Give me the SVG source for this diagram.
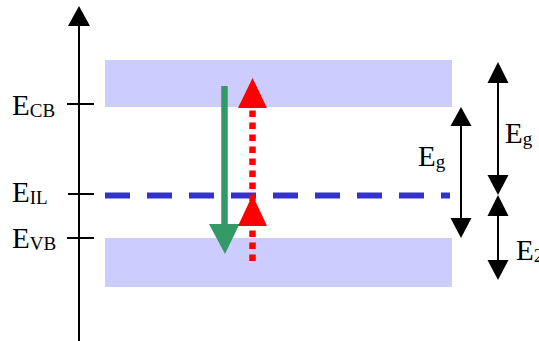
<svg xmlns="http://www.w3.org/2000/svg" width="539" height="341" viewBox="0 0 539 341">
<style>
.lbl{font-family:"Liberation Serif","Times New Roman",serif;font-size:29px;fill:#000}
.sub{font-size:19px}
.band{fill:#CCCCFF}
.ax{stroke:#000;stroke-width:2;fill:none}
.blk{fill:#000}
</style>
<g id="bands">
<rect id="cb-band" class="band" x="105" y="60" width="347" height="47"/>
<rect id="vb-band" class="band" x="105" y="238" width="347" height="49"/>
</g>
<g id="axis">
<line class="ax" x1="79" y1="341" x2="79" y2="24"/>
<polygon class="blk" points="79,6 90,26 68,26"/>
<line class="ax" x1="67" y1="104" x2="94" y2="104"/>
<line class="ax" x1="68" y1="194" x2="94" y2="194"/>
<line class="ax" x1="67" y1="238" x2="94" y2="238"/>
</g>
<g id="labels">
<text id="l-ecb" class="lbl" x="12" y="115">E<tspan class="sub" dy="2">CB</tspan></text>
<text id="l-eil" class="lbl" x="12" y="202">E<tspan class="sub" dy="2">IL</tspan></text>
<text id="l-evb" class="lbl" x="12" y="248">E<tspan class="sub" dy="2">VB</tspan></text>
<text id="l-eg1" class="lbl" x="418" y="166">E<tspan class="sub" dy="2">g</tspan></text>
<text id="l-eg2" class="lbl" x="505" y="143">E<tspan class="sub" dy="2">g</tspan></text>
<text id="l-e2" class="lbl" x="516" y="260">E<tspan class="sub" dy="2">2</tspan></text>
</g>
<g id="il-level">
<line x1="105" y1="195.5" x2="450" y2="195.5" stroke="#3333CC" stroke-width="6" stroke-dasharray="25 17"/>
</g>
<g id="connectors">
<g id="green-arrow">
<line x1="224.5" y1="86" x2="224.5" y2="226" stroke="#339966" stroke-width="6.5"/>
<polygon fill="#339966" points="209,224 239.5,224 225,254"/>
</g>
<g id="red-arrow">
<line x1="252.5" y1="261" x2="252.5" y2="106" stroke="#FF0000" stroke-width="6.5" stroke-dasharray="6.5 5.5"/>
<polygon fill="#FF0000" points="252.5,78 267,108 238,108"/>
<polygon fill="#FF0000" points="252.5,195 267,226 238,226"/>
</g>
<g id="eg1-arrow">
<line class="ax" x1="461" y1="124" x2="461" y2="220"/>
<polygon class="blk" points="461,107 471.5,126 450.5,126"/>
<polygon class="blk" points="461,238 471.5,218 450.5,218"/>
</g>
<g id="eg2-arrow">
<line class="ax" x1="498" y1="81" x2="498" y2="177"/>
<polygon class="blk" points="498,62 508.5,83 487.5,83"/>
<polygon class="blk" points="498,195 508.5,175 487.5,175"/>
</g>
<g id="e2-arrow">
<line class="ax" x1="498" y1="214" x2="498" y2="262"/>
<polygon class="blk" points="498,195 508.5,216 487.5,216"/>
<polygon class="blk" points="498,280 508.5,260 487.5,260"/>
</g>
</g>
</svg>
